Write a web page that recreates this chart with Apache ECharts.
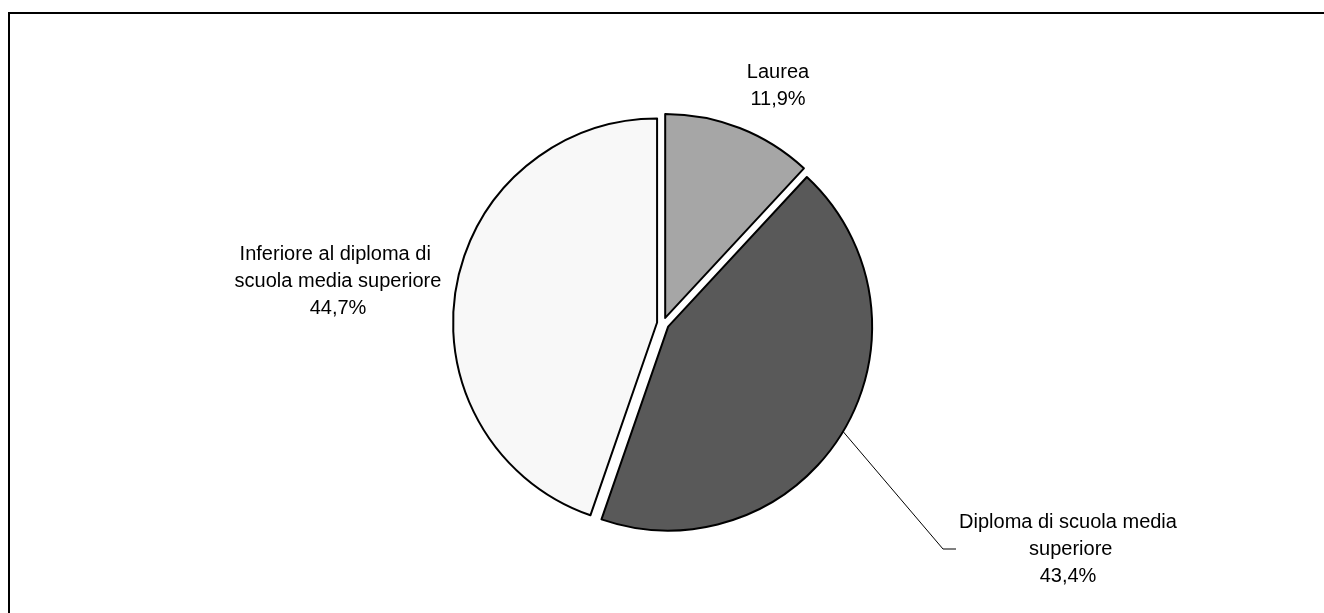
<!DOCTYPE html>
<html>
<head>
<meta charset="utf-8">
<script src="https://cdn.jsdelivr.net/npm/echarts@6/dist/echarts.min.js"></script>
<style>
  html, body { margin: 0; padding: 0; background: #fff; }
  #chart { width: 1324px; height: 613px; }
</style>
</head>
<body>
<div id="chart"></div>
<script>
// titolo di studio - quote percentuali
const categories = ['Laurea', 'Diploma di scuola media superiore', 'Inferiore al diploma di scuola media superiore'];
const values = [11.9, 43.4, 44.7];
const colors = ['#a6a6a6', '#595959', '#f8f8f8'];

// posizione delle etichette (centro del blocco di testo)
const labelPos = [[778, 86], [1068, 549], [338, 281]];
const explode = 6;

const chart = echarts.init(document.getElementById('chart'));

const labelFont = '20px "Liberation Sans", Arial, sans-serif';

const option = {
    backgroundColor: '#ffffff',
    animation: false,
    series: [{
        type: 'pie',
        center: [663, 323.5],
        radius: 204,
        startAngle: 90,
        clockwise: true,
        selectedMode: 'multiple',
        selectedOffset: explode,
        emphasis: { disabled: true },
        itemStyle: { borderColor: '#000', borderWidth: 2 },
        select: { itemStyle: { borderColor: '#000', borderWidth: 2 } },
        label: { show: false },
        labelLine: { show: false },
        data: categories.map(function (name, i) {
            return {
                name: name,
                value: values[i],
                selected: true,
                itemStyle: { color: colors[i] }
            };
        })
    }]
};

chart.setOption(option);

// etichette e linea di richiamo
const data = chart.getModel().getSeriesByIndex(0).getData();
const graphics = [{
    type: 'rect',
    shape: { x: 9, y: 13, width: 1400, height: 700 },
    style: { fill: 'none', stroke: '#000', lineWidth: 2 },
    silent: true
}];
categories.forEach(function (name, i) {
    graphics.push({
        type: 'text',
        x: labelPos[i][0],
        y: labelPos[i][1],
        silent: true,
        style: {
            text: name + '\n' + values[i].toFixed(1).replace('.', ',') + '%',
            font: labelFont,
            fill: '#000',
            lineHeight: 27,
            width: 222,
            overflow: 'break',
            align: 'center',
            verticalAlign: 'middle'
        }
    });
});
// linea di richiamo per "Diploma"
const lay = data.getItemLayout(1);
const mid = (lay.startAngle + lay.endAngle) / 2;
const rr = lay.r + explode;
graphics.push({
    type: 'polyline',
    silent: true,
    shape: {
        points: [
            [lay.cx + rr * Math.cos(mid), lay.cy + rr * Math.sin(mid)],
            [943, 549],
            [956, 549]
        ]
    },
    style: { stroke: '#000', lineWidth: 1, fill: 'none' }
});

chart.setOption({ graphic: graphics });
</script>
</body>
</html>
